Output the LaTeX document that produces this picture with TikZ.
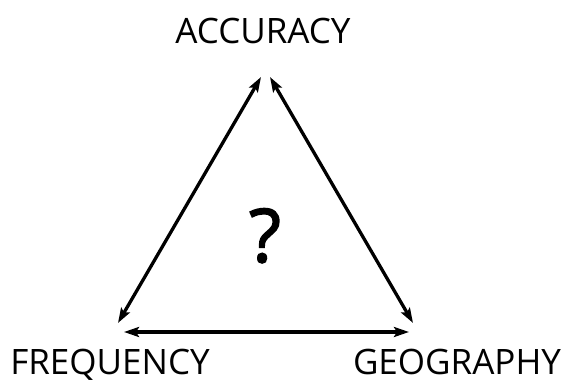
\documentclass[tikz,border=0pt]{standalone}
\usepackage{fontspec}
\setmainfont{Open Sans}
\newfontfamily\qmfont{Open Sans}[FakeBold=2]
\usetikzlibrary{arrows.meta}
\begin{document}
\begin{tikzpicture}[x=1pt,y=-1pt,
  >={Stealth[length=15pt,width=10pt,inset=3pt]},
  conn/.style={<->, line width=3.3pt},
  lbl/.style={font=\fontsize{35}{40}\selectfont, inner sep=0pt, anchor=base},
  qm/.style={font=\qmfont\fontsize{74}{80}\selectfont, inner sep=0pt, anchor=base}]
\useasboundingbox (0,0) rectangle (566,383);
\node[lbl] (acc) at (263,43) {ACCURACY};
\node[lbl] (freq) at (110,374) {FREQUENCY};
\node[lbl] (geo) at (457,374) {GEOGRAPHY};
\node[qm] (q) at (265,262) {?};
\coordinate (topL) at (261,77);
\coordinate (topR) at (270,77);
\coordinate (botL) at (118,323);
\coordinate (botR) at (413,323);
\coordinate (horL) at (124,332);
\coordinate (horR) at (409,332);
\draw[conn] (topL) -- (botL);
\draw[conn] (topR) -- (botR);
\draw[conn] (horL) -- (horR);
\end{tikzpicture}
\end{document}
